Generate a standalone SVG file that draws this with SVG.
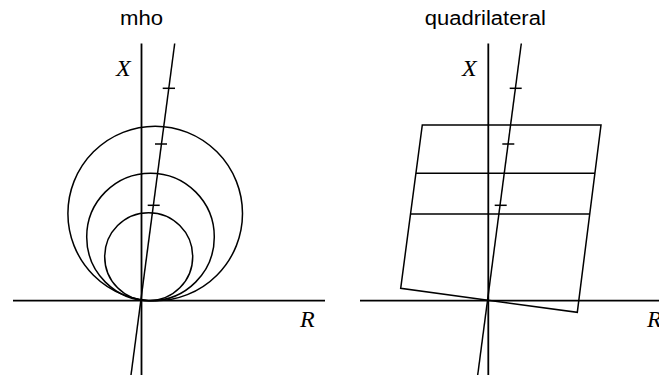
<svg xmlns="http://www.w3.org/2000/svg" width="659" height="375" viewBox="0 0 659 375">
<style>
.ln{stroke:#000;stroke-width:1.5;fill:none}
.ax{stroke:#000;stroke-width:1.8;fill:none}
.t{font-family:"Liberation Sans",Arial,sans-serif;font-size:20px;fill:#000}
.v{font-family:"Liberation Serif","Times New Roman",serif;font-style:italic;font-size:24px;fill:#000}
</style>
<rect width="659" height="375" fill="#fff"/>
<g id="mho">
<text class="t" x="141.5" y="25" text-anchor="middle" textLength="43" lengthAdjust="spacingAndGlyphs">mho</text>
<line class="ax" x1="141.5" y1="43.5" x2="141.5" y2="375"/>
<line class="ax" x1="13" y1="300.7" x2="325" y2="300.7"/>
<line class="ln" x1="174.7" y1="43.5" x2="131" y2="375"/>
<line class="ln" x1="162.7" y1="88.3" x2="175" y2="88.3"/>
<line class="ln" x1="155" y1="144" x2="167" y2="144"/>
<line class="ln" x1="147.7" y1="205.3" x2="159.7" y2="205.3"/>
<circle class="ln" cx="155.2" cy="213.5" r="87.3"/>
<circle class="ln" cx="150.5" cy="237" r="63.8"/>
<circle class="ln" cx="148.7" cy="256.7" r="44"/>
<text class="v" x="116" y="76">X</text>
<text class="v" x="300" y="327">R</text>
</g>
<g id="quadrilateral">
<text class="t" x="485.3" y="25" text-anchor="middle" textLength="121" lengthAdjust="spacingAndGlyphs">quadrilateral</text>
<line class="ax" x1="488.3" y1="43.5" x2="488.3" y2="375"/>
<line class="ax" x1="360" y1="300.7" x2="659" y2="300.7"/>
<line class="ln" x1="521.3" y1="43.5" x2="477.7" y2="375"/>
<line class="ln" x1="509.7" y1="88.3" x2="521.7" y2="88.3"/>
<line class="ln" x1="502.3" y1="144" x2="514.3" y2="144"/>
<line class="ln" x1="494.7" y1="205.3" x2="506.7" y2="205.3"/>
<polygon class="ln" points="422.3,125 601,125 577.3,312.3 400.7,288.3"/>
<line class="ln" x1="416" y1="173.3" x2="595" y2="173.3"/>
<line class="ln" x1="411" y1="214" x2="589.5" y2="214"/>
<text class="v" x="462" y="76">X</text>
<text class="v" x="647" y="327">R</text>
</g>
</svg>
